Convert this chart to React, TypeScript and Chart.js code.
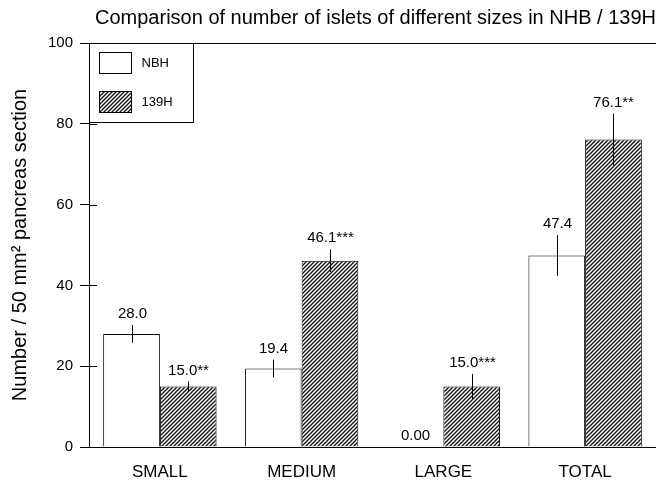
import { useEffect, useRef } from "react";
import { Chart, registerables } from "chart.js";

Chart.register(...registerables);

const categories = ["SMALL", "MEDIUM", "LARGE", "TOTAL"];
const seriesNames = ["NBH", "139H"];
const nbhValues = [28.0, 19.4, 0.0, 47.4];
const h139Values = [15.0, 46.1, 15.0, 76.1];
const nbhErrors = [2.2, 2.2, 0, 5.0];
const h139Errors = [1.2, 2.8, 3.1, 6.4];
const nbhLabels = ["28.0", "19.4", "0.00", "47.4"];
const h139Labels = ["15.0**", "46.1***", "15.0***", "76.1**"];
const yTicks = [0, 20, 40, 60, 80, 100];
const titleText = "Comparison of number of islets of different sizes in NHB / 139H";
const yTitle = "Number / 50 mm\u00B2 pancreas section";

const FONT = "'Liberation Sans', Arial, Helvetica, sans-serif";

function makeHatch(): CanvasPattern | string {
  const c = document.createElement("canvas");
  c.width = 4;
  c.height = 4;
  const g = c.getContext("2d");
  if (!g) return "#888";
  g.fillStyle = "#fff";
  g.fillRect(0, 0, 4, 4);
  g.strokeStyle = "#111";
  g.lineWidth = 1.3;
  g.beginPath();
  g.moveTo(-1, 5);
  g.lineTo(5, -1);
  g.moveTo(-1, 1);
  g.lineTo(1, -1);
  g.moveTo(3, 5);
  g.lineTo(5, 3);
  g.stroke();
  return g.createPattern(c, "repeat") || "#888";
}

const errorBarPlugin = {
  id: "errorBars",
  afterDatasetsDraw(chart: any) {
    const ctx = chart.ctx;
    const yScale = chart.scales.y;
    ctx.save();
    chart.data.datasets.forEach((ds: any, d: number) => {
      const meta = chart.getDatasetMeta(d);
      meta.data.forEach((el: any, i: number) => {
        const v = ds.data[i];
        const e = ds.errors[i];
        const x = Math.round(el.x) + 0.5;
        const top = yScale.getPixelForValue(v + e);
        const bot = yScale.getPixelForValue(v - e);
        if (e > 0) {
          ctx.strokeStyle = "#000";
          ctx.lineWidth = 1;
          ctx.beginPath();
          ctx.moveTo(x, top);
          ctx.lineTo(x, bot);
          ctx.stroke();
        }
        ctx.fillStyle = "#000";
        ctx.font = `15px ${FONT}`;
        ctx.textAlign = "center";
        ctx.textBaseline = "alphabetic";
        ctx.fillText(ds.valueLabels[i], x, top - 7);
      });
    });
    // inner tick marks on y axis
    const ca = chart.chartArea;
    ctx.strokeStyle = "#000";
    ctx.lineWidth = 1;
    yTicks.forEach((t) => {
      if (t === 0 || t === 100) return;
      const y = Math.round(yScale.getPixelForValue(t)) + 0.5;
      ctx.beginPath();
      ctx.moveTo(ca.left, y);
      ctx.lineTo(ca.left + 8, y);
      ctx.stroke();
    });
    ctx.restore();
  },
};

const legendBoxPlugin = {
  id: "legendBox",
  afterDraw(chart: any) {
    const ctx = chart.ctx;
    const ca = chart.chartArea;
    ctx.save();
    const bx = Math.round(ca.left) + 0.5;
    const by = Math.round(ca.top) + 0.5;
    ctx.fillStyle = "#fff";
    ctx.fillRect(bx, by, 104, 79);
    ctx.strokeStyle = "#000";
    ctx.lineWidth = 1;
    ctx.strokeRect(bx, by, 104, 79);
    chart.data.datasets.forEach((ds: any, i: number) => {
      const sy = by + 9 + i * 39;
      ctx.fillStyle = ds.backgroundColor;
      ctx.fillRect(bx + 10, sy, 32, 21);
      ctx.strokeStyle = "#000";
      ctx.strokeRect(bx + 10, sy, 32, 21);
      ctx.fillStyle = "#000";
      ctx.font = `13px ${FONT}`;
      ctx.textAlign = "left";
      ctx.textBaseline = "middle";
      ctx.fillText(ds.label, bx + 52, sy + 11);
    });
    ctx.restore();
  },
};

export default function App() {
  const ref = useRef<HTMLCanvasElement | null>(null);
  useEffect(() => {
    if (!ref.current) return;
    const hatch = makeHatch();
    const chart = new Chart(ref.current, {
      type: "bar",
      data: {
        labels: categories,
        datasets: [
          {
            label: seriesNames[0],
            data: nbhValues,
            backgroundColor: "#fff",
            borderColor: "#000",
            borderWidth: 1,
            errors: nbhErrors,
            valueLabels: nbhLabels,
          } as any,
          {
            label: seriesNames[1],
            data: h139Values,
            backgroundColor: hatch,
            borderColor: "#000",
            borderWidth: 1,
            errors: h139Errors,
            valueLabels: h139Labels,
          } as any,
        ],
      },
      options: {
        animation: false,
        responsive: true,
        maintainAspectRatio: false,
        layout: { padding: 0 },
        datasets: { bar: { categoryPercentage: 0.8, barPercentage: 1.0 } },
        plugins: {
          legend: { display: false },
          tooltip: { enabled: false },
          title: {
            display: true,
            text: titleText,
            align: "end",
            color: "#000",
            font: { size: 20, family: FONT, weight: "normal" },
            padding: { top: 6, bottom: 13 },
          },
        },
        scales: {
          x: {
            ticks: { color: "#000", font: { size: 17, family: FONT }, padding: 15 },
            grid: { display: false, drawTicks: false },
            border: { display: true, color: "#000", width: 1 },
            afterFit: (s: any) => {
              s.height = 35;
            },
          },
          y: {
            min: 0,
            max: 100,
            afterBuildTicks: (s: any) => {
              s.ticks = yTicks.map((v) => ({ value: v }));
            },
            ticks: { color: "#000", font: { size: 15, family: FONT }, padding: 7 },
            grid: {
              drawOnChartArea: true,
              color: (c: any) => (c.tick && c.tick.value === 100 ? "#000" : "rgba(0,0,0,0)"),
              tickColor: "#000",
              tickLength: 9,
              lineWidth: 1,
            },
            border: { display: true, color: "#000", width: 1 },
            title: {
              display: true,
              text: yTitle,
              color: "#000",
              font: { size: 20, family: FONT },
              padding: { top: 8, bottom: 0 },
            },
            afterFit: (s: any) => {
              s.width = 89;
            },
          },
        },
      } as any,
      plugins: [errorBarPlugin, legendBoxPlugin],
    });
    return () => chart.destroy();
  }, []);
  return (
    <div style={{ position: "fixed", left: 0, top: 0, width: 656, height: 482, background: "#fff" }}>
      <canvas ref={ref} />
    </div>
  );
}
